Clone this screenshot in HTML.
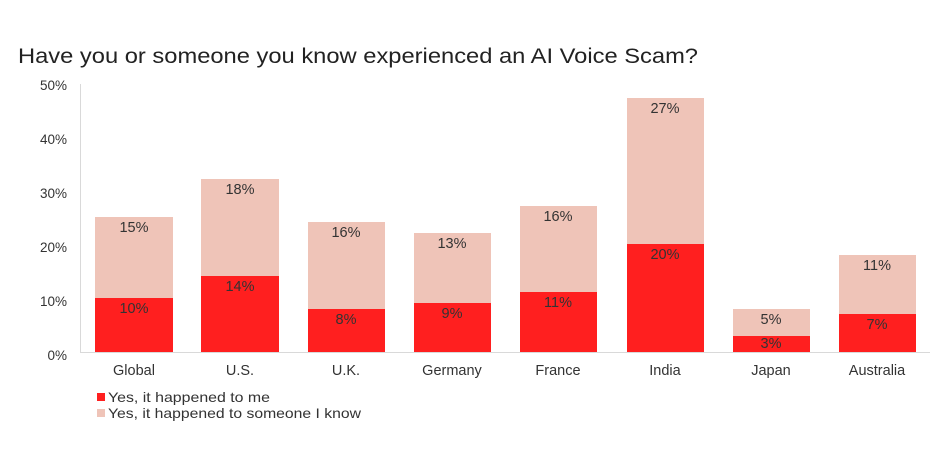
<!DOCTYPE html>
<html><head><meta charset="utf-8"><style>
body{margin:0;background:#fff;width:934px;height:456px;overflow:hidden;font-family:"Liberation Sans",sans-serif}
</style></head><body>
<svg width="934" height="456" xmlns="http://www.w3.org/2000/svg" font-family="Liberation Sans, sans-serif">
<text x="18" y="63" font-size="21" fill="#222" textLength="680" lengthAdjust="spacingAndGlyphs">Have you or someone you know experienced an AI Voice Scam?</text>
<g font-size="13.5" fill="#333" text-anchor="end">
<text x="67" y="90">50%</text><text x="67" y="144">40%</text><text x="67" y="198">30%</text>
<text x="67" y="252">20%</text><text x="67" y="306">10%</text><text x="67" y="360">0%</text>
</g>
<line x1="80.5" y1="84" x2="80.5" y2="352" stroke="#d9d9d9"/>
<line x1="80" y1="352.5" x2="930" y2="352.5" stroke="#d9d9d9"/>
<g font-size="14.5" fill="#333" text-anchor="middle">
<rect x="95" y="217" width="78" height="81" fill="#efc4b8"/><rect x="95" y="298" width="78" height="54" fill="#ff1f1f"/>
<text x="134" y="232">15%</text><text x="134" y="313">10%</text><text x="134" y="375">Global</text>
<rect x="201" y="179" width="78" height="97" fill="#efc4b8"/><rect x="201" y="276" width="78" height="76" fill="#ff1f1f"/>
<text x="240" y="194">18%</text><text x="240" y="291">14%</text><text x="240" y="375">U.S.</text>
<rect x="308" y="222" width="77" height="87" fill="#efc4b8"/><rect x="308" y="309" width="77" height="43" fill="#ff1f1f"/>
<text x="346" y="237">16%</text><text x="346" y="324">8%</text><text x="346" y="375">U.K.</text>
<rect x="414" y="233" width="77" height="70" fill="#efc4b8"/><rect x="414" y="303" width="77" height="49" fill="#ff1f1f"/>
<text x="452" y="248">13%</text><text x="452" y="318">9%</text><text x="452" y="375">Germany</text>
<rect x="520" y="206" width="77" height="86" fill="#efc4b8"/><rect x="520" y="292" width="77" height="60" fill="#ff1f1f"/>
<text x="558" y="221">16%</text><text x="558" y="307">11%</text><text x="558" y="375">France</text>
<rect x="627" y="98" width="77" height="146" fill="#efc4b8"/><rect x="627" y="244" width="77" height="108" fill="#ff1f1f"/>
<text x="665" y="113">27%</text><text x="665" y="259">20%</text><text x="665" y="375">India</text>
<rect x="733" y="309" width="77" height="27" fill="#efc4b8"/><rect x="733" y="336" width="77" height="16" fill="#ff1f1f"/>
<text x="771" y="324">5%</text><text x="771" y="348">3%</text><text x="771" y="375">Japan</text>
<rect x="839" y="255" width="77" height="59" fill="#efc4b8"/><rect x="839" y="314" width="77" height="38" fill="#ff1f1f"/>
<text x="877" y="270">11%</text><text x="877" y="329">7%</text><text x="877" y="375">Australia</text>
</g>
<rect x="97" y="393" width="8" height="8" fill="#ff1f1f"/>
<text x="108" y="402" font-size="14" fill="#333" textLength="162" lengthAdjust="spacingAndGlyphs">Yes, it happened to me</text>
<rect x="97" y="409" width="8" height="8" fill="#efc4b8"/>
<text x="108" y="418" font-size="14" fill="#333" textLength="253" lengthAdjust="spacingAndGlyphs">Yes, it happened to someone I know</text>
</svg>
</body></html>
